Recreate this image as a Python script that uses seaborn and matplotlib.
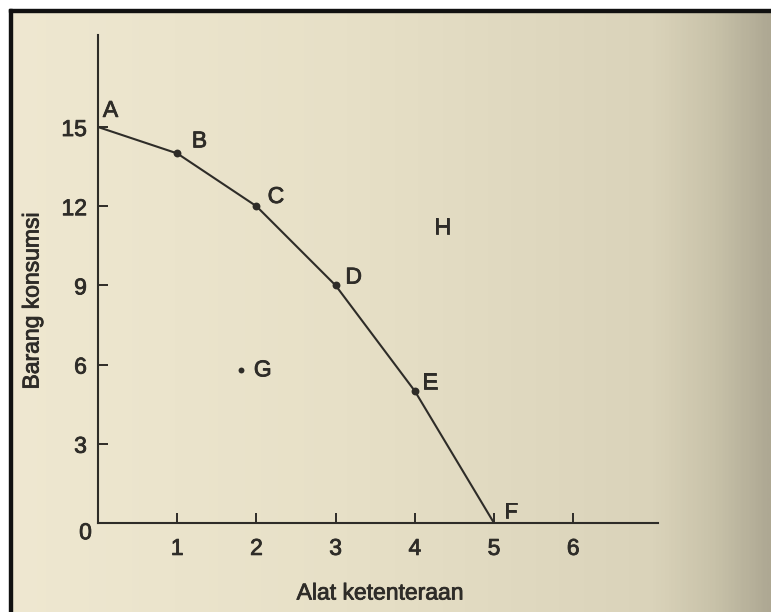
import numpy as np
import pandas as pd
import matplotlib
matplotlib.use("Agg")
import matplotlib.pyplot as plt
import matplotlib.patheffects as pe
from matplotlib.colors import LinearSegmentedColormap
from matplotlib.patches import Rectangle
import seaborn as sns

# Production possibility schedule
titik = ["A", "B", "C", "D", "E", "F"]
alat_ketenteraan = [0, 1, 2, 3, 4, 5]
barang_konsumsi = [15, 14, 12, 9, 5, 0]

# Point inside the frontier (G) and outside it (H)
g_xy = (1.8, 5.8)
h_xy = (4.35, 11.2)

x_ticks = [1, 2, 3, 4, 5, 6]
y_ticks = [3, 6, 9, 12, 15]

# Label offsets (points) for each lettered point
label_offsets = {"A": (9, 12), "B": (16, 9), "C": (14, 7), "D": (13, 6),
                 "E": (11, 6), "F": (12, 8)}

sns.set_theme(style="white")
plt.rcParams["font.family"] = ["Liberation Sans", "DejaVu Sans"]

ink = "#2e2c28"
fs = 16.5
bold_fx = [pe.withStroke(linewidth=0.6, foreground=ink)]
W, H = 771, 612
fig = plt.figure(figsize=(W / 100, H / 100), dpi=100)

# paper background with a shadow toward the right edge
bg = fig.add_axes([0, 0, 1, 1], zorder=-10)
paper = LinearSegmentedColormap.from_list(
    "paper",
    [(0.0, "#efe8d1"), (0.45, "#e7e0c7"), (0.85, "#dad3ba"),
     (0.93, "#c8c2a9"), (1.0, "#aea893")])
grad = np.linspace(0, 1, 400)[None, :]
bg.imshow(grad, aspect="auto", cmap=paper, extent=[0, 1, 0, 1])
bg.set_axis_off()

# white margin and dark frame along top and left
fig.patches.append(Rectangle((0, 1 - 9 / H), 1, 9 / H, transform=fig.transFigure,
                             color="white", zorder=-5))
fig.patches.append(Rectangle((0, 0), 9 / W, 1, transform=fig.transFigure,
                             color="white", zorder=-5))
fig.patches.append(Rectangle((9 / W, 1 - 12 / H), 1, 3 / H, transform=fig.transFigure,
                             color="#111111", zorder=-4))
fig.patches.append(Rectangle((9 / W, 0), 3 / W, 1 - 9 / H, transform=fig.transFigure,
                             color="#111111", zorder=-4))

# main chart axes: origin near (98, 523) px
x0, y0 = 98, 523
xpx, ypx = 79.2, 26.4
ax = fig.add_axes([x0 / W, (H - y0) / H, 560 / W, 488 / H])
ax.set_facecolor("none")
ax.set_xlim(0, 560 / xpx)
ax.set_ylim(0, 488 / ypx)

df = pd.DataFrame({"titik": titik, "alat": alat_ketenteraan, "konsumsi": barang_konsumsi})
sns.lineplot(data=df, x="alat", y="konsumsi", ax=ax, color=ink, linewidth=1.5,
             sort=False, clip_on=False)
sns.scatterplot(data=df.iloc[1:5], x="alat", y="konsumsi", ax=ax, color=ink,
                s=32, edgecolor=ink, linewidth=0, zorder=5)
sns.scatterplot(x=[g_xy[0]], y=[g_xy[1]], ax=ax, color=ink, s=18, linewidth=0, zorder=5)

for name, xv, yv in zip(titik, alat_ketenteraan, barang_konsumsi):
    ax.annotate(name, (xv, yv), xytext=label_offsets[name], textcoords="offset points",
                ha="center", va="center", fontsize=fs, color=ink, path_effects=bold_fx)
ax.annotate("G", g_xy, xytext=(16, 0), textcoords="offset points",
            ha="center", va="center", fontsize=fs, color=ink, path_effects=bold_fx)
ax.text(h_xy[0], h_xy[1], "H", ha="center", va="center", fontsize=fs, color=ink,
        path_effects=bold_fx)
ax.annotate("0", (0, 0), xytext=(-9, -7), textcoords="offset points",
            ha="center", va="center", fontsize=fs, color=ink, path_effects=bold_fx)

for side in ["top", "right"]:
    ax.spines[side].set_visible(False)
for side in ["left", "bottom"]:
    ax.spines[side].set_color(ink)
    ax.spines[side].set_linewidth(1.5)

ax.set_xticks(x_ticks)
ax.set_xticklabels([str(v) for v in x_ticks])
ax.set_yticks(y_ticks)
ax.set_yticklabels([str(v) for v in y_ticks])
ax.tick_params(axis="x", direction="in", length=7, width=1.4, color=ink,
               labelsize=fs, labelcolor=ink, pad=10, bottom=True)
ax.tick_params(axis="y", direction="in", length=7, width=1.4, color=ink,
               labelsize=fs, labelcolor=ink, pad=8, left=True)
for lbl in ax.get_xticklabels() + ax.get_yticklabels():
    lbl.set_path_effects(bold_fx)
ax.set_xlabel("")
ax.set_ylabel("")

fig.text(380 / W, 1 - 593 / H, "Alat ketenteraan", ha="center", va="center",
         fontsize=16.5, color=ink, path_effects=bold_fx)
fig.text(32 / W, 1 - 301 / H, "Barang konsumsi", ha="center", va="center",
         rotation=90, fontsize=16.5, color=ink, path_effects=bold_fx)

fig.savefig("out.png", dpi=100)
